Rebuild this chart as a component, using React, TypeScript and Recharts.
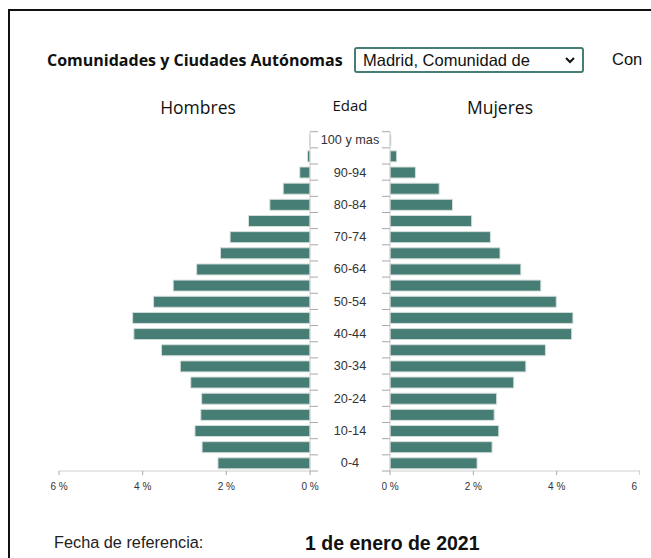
import React from "react"
import { Bar, BarChart, XAxis, YAxis } from "recharts"

const AGES = [
  "0-4", "5-9", "10-14", "15-19", "20-24", "25-29", "30-34", "35-39", "40-44", "45-49",
  "50-54", "55-59", "60-64", "65-69", "70-74", "75-79", "80-84", "85-89", "90-94", "95-99", "100 y mas",
]
const HOMBRES = [2.2, 2.58, 2.75, 2.61, 2.59, 2.85, 3.1, 3.55, 4.21, 4.24, 3.74, 3.27, 2.71, 2.14, 1.91, 1.47, 0.96, 0.64, 0.245, 0.06, 0.01]
const MUJERES = [2.09, 2.45, 2.61, 2.5, 2.56, 2.97, 3.26, 3.73, 4.36, 4.39, 3.99, 3.62, 3.14, 2.64, 2.41, 1.96, 1.5, 1.18, 0.61, 0.16, 0.02]
const X_TICKS = [0, 2, 4, 6]

const data = AGES.map((age, i) => ({ age, h: HOMBRES[i], m: MUJERES[i] }))

const BAR = "#467d74"
const AXIS_LINE = "#cfcfcf"
const TICK_LINE = "#a8a8a8"
const CHART_H = 380
const TOP = 10.7
const XAXIS_H = 30
const BAND = (CHART_H - TOP - XAXIS_H) / AGES.length
const TICK = 8

const xTick = { fontSize: 10, fill: "#333", fontFamily: "Liberation Sans, Arial, sans-serif" }

// tick marks sit on the band edges, not the centres
function AgeTick(props: any) {
  const { x, y, index, side } = props
  const lx = side === "right" ? x - TICK : x
  const last = index === AGES.length - 1
  return (
    <g>
      <line x1={lx} x2={lx + TICK} y1={y + BAND / 2} y2={y + BAND / 2} stroke={TICK_LINE} />
      {last && <line x1={lx} x2={lx + TICK} y1={y - BAND / 2} y2={y - BAND / 2} stroke={TICK_LINE} />}
      {side === "right" && index % 2 === 0 && (
        <text
          x={x + 32}
          y={y}
          dy="0.35em"
          textAnchor="middle"
          fontSize={12.7}
          fill="#333"
          fontFamily="Liberation Sans, Arial, sans-serif"
        >
          {AGES[index]}
        </text>
      )}
    </g>
  )
}

function Pyramid() {
  return (
    <>
      <div style={{ position: "absolute", left: 40, top: 121 }}>
        <BarChart
          width={342}
          height={CHART_H}
          data={data}
          layout="vertical"
          margin={{ top: TOP, right: 0, left: 19, bottom: 0 }}
        >
          <XAxis
            type="number"
            domain={[0, 6]}
            ticks={X_TICKS}
            reversed
            interval={0}
            height={XAXIS_H}
            tickSize={4}
            tickMargin={8}
            stroke={AXIS_LINE}
            tickLine={{ stroke: TICK_LINE }}
            tick={xTick}
            tickFormatter={(v) => `${v} %`}
          />
          <YAxis
            type="category"
            dataKey="age"
            orientation="right"
            reversed
            width={72}
            interval={0}
            tickSize={TICK}
            tickMargin={0}
            tickLine={false}
            stroke={AXIS_LINE}
            tick={<AgeTick side="right" />}
          />
          <Bar dataKey="h" fill={BAR} stroke="#d4dedb" strokeWidth={1} barSize={11} isAnimationActive={false} />
        </BarChart>
      </div>
      <div style={{ position: "absolute", left: 382, top: 121 }}>
        <BarChart
          width={258}
          height={CHART_H}
          data={data}
          layout="vertical"
          margin={{ top: TOP, right: 0, left: 0, bottom: 0 }}
        >
          <XAxis
            type="number"
            domain={[0, 6]}
            ticks={X_TICKS}
            interval={0}
            height={XAXIS_H}
            tickSize={4}
            tickMargin={8}
            stroke={AXIS_LINE}
            tickLine={{ stroke: TICK_LINE }}
            tick={xTick}
            tickFormatter={(v) => `${v} %`}
          />
          <YAxis
            type="category"
            dataKey="age"
            orientation="left"
            reversed
            width={8}
            interval={0}
            tickSize={TICK}
            tickMargin={0}
            tickLine={false}
            stroke={AXIS_LINE}
            tick={<AgeTick side="left" />}
          />
          <Bar dataKey="m" fill={BAR} stroke="#d4dedb" strokeWidth={1} barSize={11} isAnimationActive={false} />
        </BarChart>
      </div>
    </>
  )
}

export default function App() {
  const sans = "Liberation Sans, Arial, sans-serif"
  const seg = "Open Sans, sans-serif"
  return (
    <div style={{ position: "fixed", left: 0, top: 0, width: 651, height: 558, overflow: "hidden", background: "#fff" }}>
      <div style={{ position: "absolute", left: 8, top: 9, width: 700, height: 600, border: "2px solid #111" }} />
      <div style={{ position: "absolute", left: 47, top: 49, fontFamily: seg, fontWeight: 700, fontSize: 16, color: "#111", whiteSpace: "nowrap" }}>
        Comunidades y Ciudades Autónomas
      </div>
      <div
        style={{
          position: "absolute", left: 354, top: 47, width: 230, height: 26, boxSizing: "border-box",
          border: `2px solid ${BAR}`, borderRadius: 3, fontFamily: sans, fontSize: 16.5, color: "#111",
          display: "flex", alignItems: "center", paddingLeft: 7, whiteSpace: "nowrap",
        }}
      >
        Madrid, Comunidad de
        <svg width="10" height="7" style={{ position: "absolute", right: 7, top: 8 }}>
          <path d="M1 1 L5 5 L9 1" fill="none" stroke="#111" strokeWidth="2" />
        </svg>
      </div>
      <div style={{ position: "absolute", left: 612, top: 50, fontFamily: sans, fontSize: 16.5, color: "#111" }}>Con</div>
      <div style={{ position: "absolute", left: 150, width: 96, textAlign: "center", top: 95, fontFamily: seg, fontSize: 17.5, color: "#111" }}>Hombres</div>
      <div style={{ position: "absolute", left: 310, width: 80, textAlign: "center", top: 95, fontFamily: seg, fontSize: 15, color: "#111" }}>Edad</div>
      <div style={{ position: "absolute", left: 452, width: 96, textAlign: "center", top: 95, fontFamily: seg, fontSize: 17.5, color: "#111" }}>Mujeres</div>
      <Pyramid />
      <div style={{ position: "absolute", left: 54, top: 533, fontFamily: sans, fontSize: 16.3, color: "#222", whiteSpace: "nowrap" }}>Fecha de referencia:</div>
      <div style={{ position: "absolute", left: 305, top: 532, fontFamily: sans, fontSize: 19.5, fontWeight: 700, color: "#111", whiteSpace: "nowrap" }}>1 de enero de 2021</div>
    </div>
  )
}
